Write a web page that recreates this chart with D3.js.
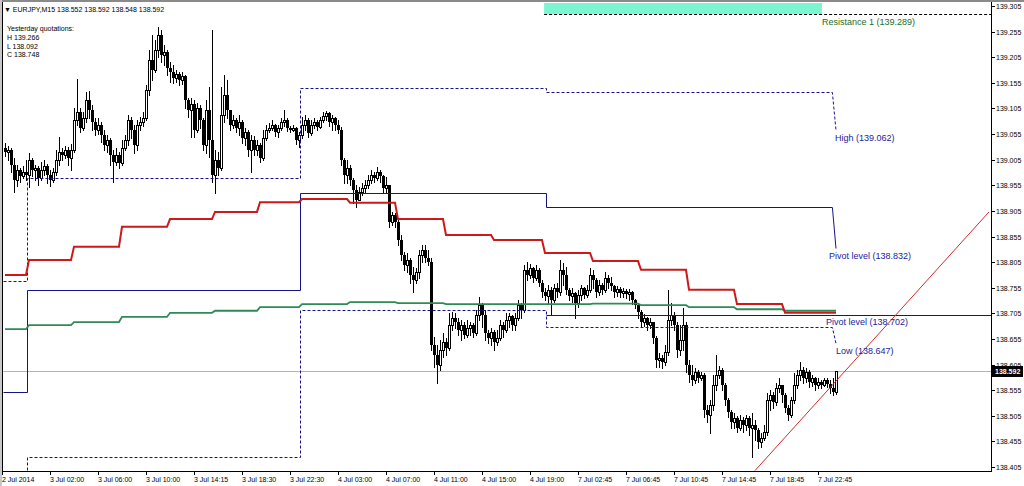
<!DOCTYPE html>
<html>
<head>
<meta charset="utf-8">
<script src="https://cdn.jsdelivr.net/npm/d3@7"></script>
<style>
  body { margin: 0; background: #fff; }
  svg { display: block; font-family: "Liberation Sans", Arial, sans-serif; }
</style>
</head>
<body>
<svg width="1024" height="486"></svg>
<script>
/*
 * EURJPY M15 bars (open of a bar = close of the bar before)
 */
var symbolName = "EURJPY,M15";
var firstOpen = 139.028;
var closes = [
  139.020, 139.024, 138.995, 138.965, 138.985, 138.973, 138.981, 138.975, 139.005, 138.985,
  138.989, 138.969, 138.985, 138.993, 138.975, 138.965, 138.981, 139.005, 139.020, 139.014,
  139.024, 139.008, 139.024, 139.083, 139.098, 139.067, 139.086, 139.122, 139.102, 139.079,
  139.063, 139.073, 139.053, 139.034, 139.044, 139.014, 139.001, 139.014, 138.999, 139.028,
  139.044, 139.083, 139.063, 139.034, 139.073, 139.079, 139.086, 139.141, 139.200, 139.180,
  139.219, 139.249, 139.210, 139.215, 139.184, 139.176, 139.165, 139.172, 139.161, 139.169,
  139.122, 139.102, 139.114, 139.063, 139.106, 139.083, 139.034, 139.102, 139.044, 138.975,
  139.005, 138.989, 139.092, 139.131, 139.102, 139.073, 139.083, 139.067, 139.079, 139.048,
  139.059, 139.024, 139.044, 139.024, 139.034, 139.008, 139.048, 139.063, 139.067, 139.073,
  139.059, 139.067, 139.079, 139.083, 139.067, 139.063, 139.067, 139.044, 139.053, 139.073,
  139.083, 139.057, 139.073, 139.079, 139.069, 139.083, 139.090, 139.096, 139.079, 139.086,
  139.073, 139.063, 139.005, 138.975, 138.989, 138.965, 138.946, 138.926, 138.942, 138.950,
  138.956, 138.965, 138.975, 138.969, 138.981, 138.973, 138.950, 138.956, 138.883, 138.897,
  138.883, 138.848, 138.819, 138.799, 138.809, 138.780, 138.770, 138.786, 138.819, 138.829,
  138.813, 138.805, 138.643, 138.623, 138.604, 138.633, 138.649, 138.637, 138.682, 138.696,
  138.688, 138.673, 138.682, 138.663, 138.677, 138.682, 138.667, 138.702, 138.721, 138.702,
  138.667, 138.657, 138.669, 138.649, 138.657, 138.682, 138.673, 138.692, 138.700, 138.682,
  138.696, 138.721, 138.712, 138.790, 138.780, 138.794, 138.774, 138.790, 138.764, 138.747,
  138.739, 138.751, 138.731, 138.755, 138.747, 138.790, 138.780, 138.751, 138.739, 138.745,
  138.725, 138.741, 138.755, 138.741, 138.751, 138.780, 138.770, 138.747, 138.760, 138.751,
  138.774, 138.764, 138.758, 138.747, 138.753, 138.745, 138.749, 138.743, 138.747, 138.731,
  138.721, 138.708, 138.688, 138.696, 138.682, 138.688, 138.657, 138.614, 138.618, 138.610,
  138.629, 138.692, 138.702, 138.682, 138.633, 138.653, 138.682, 138.604, 138.584, 138.575,
  138.590, 138.579, 138.584, 138.516, 138.506, 138.526, 138.565, 138.584, 138.594, 138.565,
  138.536, 138.512, 138.493, 138.501, 138.481, 138.497, 138.487, 138.501, 138.481, 138.487,
  138.477, 138.454, 138.462, 138.473, 138.536, 138.545, 138.532, 138.559, 138.565, 138.545,
  138.520, 138.506, 138.536, 138.565, 138.584, 138.594, 138.579, 138.590, 138.571, 138.579,
  138.565, 138.571, 138.565, 138.575, 138.567, 138.559, 138.552, 138.592
];
var highs = [
  139.038, 139.032, 139.028, 139.009, 138.995, 138.989, 138.993, 139.005, 139.018, 139.009,
  138.995, 138.993, 139.001, 139.005, 138.997, 138.985, 138.989, 139.024, 139.050, 139.028,
  139.032, 139.030, 139.036, 139.106, 139.163, 139.106, 139.098, 139.137, 139.139, 139.112,
  139.086, 139.086, 139.079, 139.063, 139.053, 139.048, 139.024, 139.028, 139.020, 139.044,
  139.053, 139.092, 139.088, 139.073, 139.083, 139.088, 139.098, 139.151, 139.219, 139.249,
  139.239, 139.264, 139.258, 139.229, 139.219, 139.196, 139.190, 139.180, 139.176, 139.176,
  139.171, 139.126, 139.126, 139.122, 139.116, 139.112, 139.086, 139.122, 139.147, 139.258,
  139.024, 139.020, 139.147, 139.171, 139.161, 139.102, 139.092, 139.086, 139.092, 139.083,
  139.067, 139.063, 139.053, 139.051, 139.044, 139.038, 139.063, 139.073, 139.077, 139.083,
  139.075, 139.073, 139.086, 139.102, 139.086, 139.071, 139.073, 139.069, 139.059, 139.088,
  139.092, 139.086, 139.083, 139.086, 139.083, 139.088, 139.098, 139.100, 139.098, 139.092,
  139.088, 139.083, 139.069, 139.009, 139.005, 138.995, 138.969, 138.956, 138.952, 138.960,
  138.965, 138.975, 138.985, 138.981, 138.991, 138.985, 138.975, 138.971, 138.956, 138.903,
  138.901, 138.891, 138.858, 138.825, 138.823, 138.813, 138.796, 138.794, 138.829, 138.838,
  138.838, 138.829, 138.813, 138.659, 138.643, 138.653, 138.667, 138.657, 138.706, 138.708,
  138.706, 138.696, 138.692, 138.688, 138.692, 138.688, 138.686, 138.712, 138.737, 138.725,
  138.712, 138.673, 138.677, 138.673, 138.673, 138.692, 138.688, 138.706, 138.706, 138.702,
  138.706, 138.731, 138.725, 138.799, 138.805, 138.801, 138.796, 138.799, 138.794, 138.770,
  138.755, 138.760, 138.757, 138.762, 138.764, 138.809, 138.803, 138.796, 138.755, 138.755,
  138.747, 138.751, 138.760, 138.757, 138.760, 138.794, 138.790, 138.774, 138.770, 138.764,
  138.786, 138.780, 138.776, 138.760, 138.758, 138.757, 138.755, 138.753, 138.753, 138.749,
  138.733, 138.723, 138.712, 138.704, 138.698, 138.696, 138.688, 138.661, 138.627, 138.623,
  138.643, 138.751, 138.725, 138.708, 138.688, 138.682, 138.715, 138.688, 138.614, 138.604,
  138.598, 138.594, 138.590, 138.588, 138.526, 138.536, 138.584, 138.623, 138.602, 138.598,
  138.569, 138.540, 138.516, 138.510, 138.505, 138.506, 138.503, 138.506, 138.505, 138.510,
  138.497, 138.481, 138.471, 138.487, 138.549, 138.555, 138.551, 138.569, 138.579, 138.565,
  138.549, 138.526, 138.542, 138.588, 138.594, 138.610, 138.600, 138.598, 138.594, 138.584,
  138.581, 138.579, 138.575, 138.579, 138.579, 138.575, 138.579, 138.592
];
var lows = [
  139.012, 139.005, 138.981, 138.942, 138.954, 138.961, 138.969, 138.965, 138.952, 138.973,
  138.965, 138.956, 138.965, 138.975, 138.959, 138.954, 138.961, 138.975, 138.995, 139.005,
  139.008, 138.995, 138.985, 139.020, 139.073, 139.059, 139.063, 139.079, 139.086, 139.063,
  139.053, 139.055, 139.040, 139.024, 139.020, 138.995, 138.961, 138.995, 138.989, 138.995,
  139.024, 139.034, 139.048, 139.018, 139.024, 139.063, 139.071, 139.083, 139.131, 139.161,
  139.176, 139.206, 139.196, 139.190, 139.171, 139.157, 139.155, 139.157, 139.151, 139.153,
  139.106, 139.088, 139.050, 139.050, 139.059, 139.067, 139.024, 139.018, 139.010, 138.961,
  138.940, 138.975, 138.985, 139.079, 139.086, 139.063, 139.067, 139.059, 139.053, 139.038,
  139.034, 139.012, 138.981, 139.014, 139.014, 139.001, 139.005, 139.044, 139.059, 139.063,
  139.051, 139.050, 139.063, 139.071, 139.061, 139.059, 139.061, 139.036, 139.030, 139.048,
  139.063, 139.050, 139.053, 139.067, 139.063, 139.067, 139.079, 139.083, 139.071, 139.063,
  139.063, 139.057, 138.995, 138.960, 138.960, 138.956, 138.921, 138.913, 138.926, 138.936,
  138.940, 138.950, 138.960, 138.961, 138.965, 138.961, 138.940, 138.942, 138.874, 138.878,
  138.874, 138.838, 138.809, 138.790, 138.786, 138.764, 138.747, 138.764, 138.774, 138.805,
  138.805, 138.799, 138.633, 138.600, 138.569, 138.594, 138.620, 138.623, 138.633, 138.673,
  138.677, 138.663, 138.653, 138.657, 138.659, 138.663, 138.659, 138.663, 138.692, 138.678,
  138.653, 138.647, 138.643, 138.633, 138.643, 138.653, 138.659, 138.669, 138.678, 138.673,
  138.673, 138.692, 138.696, 138.708, 138.770, 138.774, 138.766, 138.770, 138.758, 138.737,
  138.731, 138.725, 138.702, 138.727, 138.737, 138.741, 138.760, 138.743, 138.731, 138.727,
  138.696, 138.717, 138.731, 138.735, 138.737, 138.747, 138.755, 138.737, 138.741, 138.743,
  138.747, 138.755, 138.751, 138.737, 138.739, 138.737, 138.737, 138.735, 138.731, 138.723,
  138.715, 138.696, 138.678, 138.680, 138.673, 138.677, 138.647, 138.600, 138.600, 138.598,
  138.604, 138.623, 138.682, 138.673, 138.620, 138.623, 138.633, 138.590, 138.571, 138.565,
  138.569, 138.571, 138.575, 138.503, 138.493, 138.471, 138.516, 138.555, 138.579, 138.555,
  138.526, 138.503, 138.481, 138.481, 138.473, 138.477, 138.473, 138.477, 138.467, 138.424,
  138.458, 138.442, 138.444, 138.458, 138.467, 138.516, 138.520, 138.526, 138.551, 138.532,
  138.512, 138.497, 138.503, 138.530, 138.559, 138.575, 138.569, 138.571, 138.561, 138.563,
  138.555, 138.559, 138.559, 138.563, 138.561, 138.549, 138.545, 138.548
];
/*
 * Time labels (one every 16 bars) and price scale labels
 */
var timeLabels = ["2 Jul 2014", "3 Jul 02:00", "3 Jul 06:00", "3 Jul 10:00", "3 Jul 14:15",
  "3 Jul 18:30", "3 Jul 22:30", "4 Jul 03:00", "4 Jul 07:00", "4 Jul 11:00", "4 Jul 15:00",
  "4 Jul 19:00", "7 Jul 02:45", "7 Jul 06:45", "7 Jul 10:45", "7 Jul 14:45", "7 Jul 18:45", "7 Jul 22:45"];
var priceTicks = [139.305, 139.255, 139.205, 139.155, 139.105, 139.055, 139.005, 138.955, 138.905,
  138.855, 138.805, 138.755, 138.705, 138.655, 138.605, 138.555, 138.505, 138.455, 138.405];
/*
 * Stepped moving averages: bar where each step starts, red and green values
 */
var maStepStart = [0, 8, 23, 39, 55, 70, 85, 99, 115, 131, 147, 163, 180, 196, 212, 228, 244, 260];
var redMA = [138.780, 138.809, 138.835, 138.874, 138.889, 138.903, 138.922, 138.928, 138.921,
  138.889, 138.858, 138.848, 138.823, 138.807, 138.790, 138.751, 138.723, 138.706];
var greenMA = [138.674, 138.682, 138.688, 138.698, 138.706, 138.710, 138.717, 138.723, 138.727,
  138.725, 138.723, 138.723, 138.723, 138.724, 138.721, 138.717, 138.713, 138.710];
/*
 * Daily levels (pivot, previous high, previous low), one per day
 */
var dayStart = [0, 8, 99, 181];
var dayPivot = [138.551, 138.751, 138.940, 138.913];
var dayHigh = [138.768, 138.969, 139.145, 139.137];
var dayLow = [138.300, 138.425, 138.712, 138.678];
/*
 * Level labels on the right side
 */
var highLevel = 139.062, pivotLevel = 138.832, lowLevel = 138.647, pivotLevel2 = 138.702, resistance1 = 139.289;
var yesterday = [["H", 139.266], ["L", 138.092], ["C", 138.748]];
var trendLine = [[250, 138.398], [328, 138.903]];
var bidPrice = 138.592;

var svg = d3.select("svg"),
    width = +svg.attr("width"),
    height = +svg.attr("height"),
    plotLeft = 3, plotRight = 991, plotTop = 2, plotBottom = 471,
    navy = "#14148a",
    labelBlue = "#22229c",
    fmt = d3.format(".3f");

var x = d3.scaleLinear().domain([0, 277]).range([5, 836]);
var y = d3.scaleLinear().domain([138.405, 139.305]).range([467, 6]);

var bars = closes.map(function(c, i) {
  return {i: i, o: i ? closes[i - 1] : firstOpen, h: highs[i], l: lows[i], c: c};
});

/*
 * Frame
 */
svg.append("rect").attr("width", width).attr("height", height).attr("fill", "#fff");
svg.append("rect").attr("x", 0).attr("y", 0).attr("width", width).attr("height", 2).attr("fill", "#8a8a8a");
svg.append("rect").attr("x", 0).attr("y", 0).attr("width", 2).attr("height", height).attr("fill", "#c8c8c8");

svg.append("defs").append("clipPath").attr("id", "plot")
  .append("rect").attr("x", plotLeft).attr("y", plotTop)
  .attr("width", plotRight - plotLeft).attr("height", plotBottom - plotTop);

var g = svg.append("g").attr("clip-path", "url(#plot)");

// bid line
g.append("line")
  .attr("x1", plotLeft).attr("x2", plotRight)
  .attr("y1", Math.round(y(bidPrice)) + 0.5).attr("y2", Math.round(y(bidPrice)) + 0.5)
  .attr("stroke", "#a2bcbc").attr("stroke-width", 1);

// resistance zone
g.append("rect")
  .attr("x", x(179.7)).attr("y", 3)
  .attr("width", x(272.3) - x(179.7)).attr("height", y(resistance1) - 3)
  .attr("fill", "#7cf5d2");
g.append("line")
  .attr("x1", x(179.7)).attr("x2", plotRight)
  .attr("y1", Math.round(y(resistance1)) + 0.5).attr("y2", Math.round(y(resistance1)) + 0.5)
  .attr("stroke", "#000").attr("stroke-dasharray", "3,2");

/*
 * Candles: wicks first, then bodies
 */
g.append("g").selectAll("line")
  .data(bars)
  .enter().append("line")
    .attr("x1", function(d) { return Math.round(x(d.i)) + 0.5; })
    .attr("x2", function(d) { return Math.round(x(d.i)) + 0.5; })
    .attr("y1", function(d) { return Math.round(y(Math.max(d.h, d.o, d.c))); })
    .attr("y2", function(d) { return Math.round(y(Math.min(d.l, d.o, d.c))) + 1; })
    .attr("stroke", "#000");

g.append("g").selectAll("rect")
  .data(bars)
  .enter().append("rect")
    .attr("x", function(d) { return Math.round(x(d.i)) - (d.c > d.o ? 0.5 : 1); })
    .attr("y", function(d) { return Math.round(y(Math.max(d.o, d.c))) + (d.c > d.o ? 0.5 : 0); })
    .attr("width", function(d) { return d.c > d.o ? 2 : 3; })
    .attr("height", function(d) {
      var h = Math.round(y(Math.min(d.o, d.c))) - Math.round(y(Math.max(d.o, d.c)));
      return Math.max(h, 1);
    })
    .attr("fill", function(d) { return d.c > d.o ? "#fff" : "#000"; })
    .attr("stroke", function(d) { return d.c > d.o ? "#000" : "none"; });

/*
 * Daily pivot / high / low lines, ending in a short leg to their labels
 */
function dayPoints(vals, endVal) {
  var pts = [];
  dayStart.forEach(function(s, k) {
    var e = k < dayStart.length - 1 ? dayStart[k + 1] - 0.5 : 275.8;
    pts.push([s - 0.5, vals[k]], [e, vals[k]]);
  });
  pts.push([277, endVal]);
  return pts;
}
var line = d3.line().x(function(d) { return x(d[0]); }).y(function(d) { return Math.round(y(d[1])) + 0.5; });

g.append("path").attr("d", line(dayPoints(dayPivot, pivotLevel)))
  .attr("fill", "none").attr("stroke", navy).attr("stroke-width", 1);
g.append("path").attr("d", line(dayPoints(dayHigh, highLevel)))
  .attr("fill", "none").attr("stroke", navy).attr("stroke-dasharray", "3,2");
g.append("path").attr("d", line(dayPoints(dayLow, lowLevel)))
  .attr("fill", "none").attr("stroke", navy).attr("stroke-dasharray", "3,2");

g.append("line")
  .attr("x1", x(180.5)).attr("x2", plotRight)
  .attr("y1", Math.round(y(pivotLevel2)) + 0.5).attr("y2", Math.round(y(pivotLevel2)) + 0.5)
  .attr("stroke", navy);

/*
 * Moving averages (one value per bar, from their step tables)
 */
function stepSeries(vals) {
  return bars.map(function(d) {
    var k = d3.bisectRight(maStepStart, d.i) - 1;
    return [d.i, vals[k]];
  });
}
var maLine = d3.line().x(function(d) { return x(d[0]); }).y(function(d) { return y(d[1]); });
g.append("path").attr("d", maLine(stepSeries(greenMA)))
  .attr("fill", "none").attr("stroke", "#2e8b57").attr("stroke-width", 1.8);
g.append("path").attr("d", maLine(stepSeries(redMA)))
  .attr("fill", "none").attr("stroke", "#cc1a1a").attr("stroke-width", 2);

// trend line
g.append("line")
  .attr("x1", x(trendLine[0][0])).attr("y1", y(trendLine[0][1]))
  .attr("x2", x(trendLine[1][0])).attr("y2", y(trendLine[1][1]))
  .attr("stroke", "#d42a2a").attr("stroke-width", 1);

/*
 * Level labels
 */
var labels = [
  {t: "High (" + fmt(highLevel) + ")", v: highLevel, dx: -1, c: labelBlue},
  {t: "Pivot level (" + fmt(pivotLevel) + ")", v: pivotLevel, dx: -7, c: labelBlue},
  {t: "Pivot level (" + fmt(pivotLevel2) + ")", v: pivotLevel2, dx: -10, c: labelBlue},
  {t: "Low (" + fmt(lowLevel) + ")", v: lowLevel, dx: 0, c: labelBlue},
  {t: "Resistance 1 (" + fmt(resistance1) + ")", v: resistance1, dx: -14, c: "#1b6e1b"}
];
svg.append("g").selectAll("text")
  .data(labels)
  .enter().append("text")
    .attr("x", function(d) { return x(277) + d.dx; })
    .attr("y", function(d) { return y(d.v) + 10.5; })
    .attr("font-size", "9px")
    .attr("fill", function(d) { return d.c; })
    .text(function(d) { return d.t; });

/*
 * Axes: price scale on the right, time scale at the bottom
 */
svg.append("line").attr("x1", 2.5).attr("x2", 2.5).attr("y1", 2).attr("y2", plotBottom)
  .attr("stroke", "#000");
svg.append("line").attr("x1", plotRight + 0.5).attr("x2", plotRight + 0.5).attr("y1", 2).attr("y2", plotBottom + 1)
  .attr("stroke", "#000");
svg.append("line").attr("x1", 2).attr("x2", plotRight + 1).attr("y1", plotBottom + 0.5).attr("y2", plotBottom + 0.5)
  .attr("stroke", "#000");

var py = svg.append("g").selectAll("g")
  .data(priceTicks)
  .enter().append("g")
    .attr("transform", function(d) { return "translate(0," + Math.round(y(d)) + ")"; });
py.append("line").attr("x1", plotRight + 1).attr("x2", plotRight + 4)
  .attr("y1", 0.5).attr("y2", 0.5).attr("stroke", "#000");
py.append("text").attr("x", 996).attr("y", 3)
  .attr("font-size", "7px").attr("fill", "#000")
  .text(function(d) { return fmt(d); });

var tx = svg.append("g").selectAll("g")
  .data(timeLabels)
  .enter().append("g")
    .attr("transform", function(d, k) { return "translate(" + (x(k * 16) - 3) + ",0)"; });
tx.append("line").attr("x1", 0.5).attr("x2", 0.5)
  .attr("y1", plotBottom + 1).attr("y2", plotBottom + 4).attr("stroke", "#000");
tx.append("text").attr("x", 0).attr("y", 482)
  .attr("font-size", "7px").attr("fill", "#000")
  .text(function(d) { return d; });

// current price box
var last = bars[bars.length - 1];
svg.append("rect").attr("x", plotRight + 1).attr("y", Math.round(y(last.c)) - 5)
  .attr("width", 31).attr("height", 11).attr("fill", "#000");
svg.append("text").attr("x", 995).attr("y", Math.round(y(last.c)) + 3)
  .attr("font-size", "7px").attr("font-weight", "bold").attr("fill", "#fff")
  .text(fmt(last.c));

/*
 * Header and yesterday's quotations
 */
svg.append("text").attr("x", 4).attr("y", 12).attr("font-size", "7px").attr("fill", "#000")
  .text("\u25BC " + symbolName + "  " + [last.o, last.h, last.l, last.c].map(fmt).join(" "));
svg.append("text").attr("x", 7).attr("y", 31).attr("font-size", "7px").attr("fill", "#000")
  .text("Yesterday quotations:");
svg.append("g").selectAll("text")
  .data(yesterday)
  .enter().append("text")
    .attr("x", 7)
    .attr("y", function(d, k) { return 40 + k * 8.5; })
    .attr("font-size", "7px").attr("fill", "#000")
    .text(function(d) { return d[0] + " " + fmt(d[1]); });
</script>
</body>
</html>
